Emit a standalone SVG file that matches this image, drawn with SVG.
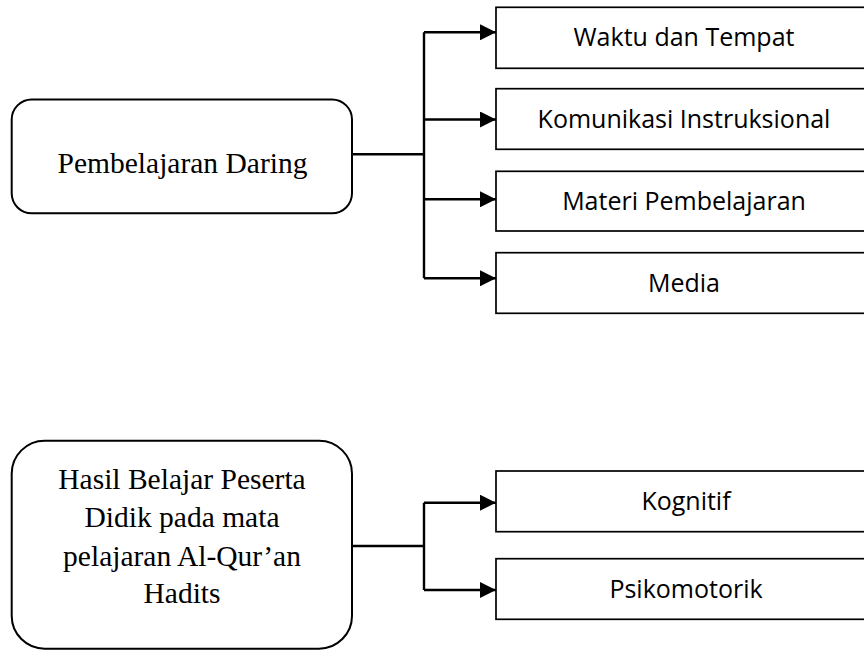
<svg xmlns="http://www.w3.org/2000/svg" width="864" height="650" viewBox="0 0 864 650">
<defs>
<style>
.rbox{fill:#fff;stroke:#000;stroke-width:2}
.box{fill:#fff;stroke:#000;stroke-width:1.7}
.serif{font-family:"Liberation Serif","Times New Roman",serif;font-size:29.5px;fill:#000;text-anchor:middle}
.sans{font-family:"Open Sans","Noto Sans",sans-serif;font-size:25px;fill:#000;text-anchor:middle}
.conn{fill:none;stroke:#000;stroke-width:2.4}
</style>
<marker id="arr" markerUnits="userSpaceOnUse" markerWidth="16" markerHeight="16" refX="16" refY="8" orient="auto">
<path d="M0,0 L16,8 L0,16 z" fill="#000"/>
</marker>
</defs>
<rect width="864" height="650" fill="#fff"/>
<g id="connectors">
<path class="conn" d="M352,154.3 H424 M424,32.3 V278.3"/>
<line class="conn" x1="424" y1="32.3" x2="496" y2="32.3" marker-end="url(#arr)"/>
<line class="conn" x1="424" y1="119.5" x2="496" y2="119.5" marker-end="url(#arr)"/>
<line class="conn" x1="424" y1="199.3" x2="496" y2="199.3" marker-end="url(#arr)"/>
<line class="conn" x1="424" y1="278.3" x2="496" y2="278.3" marker-end="url(#arr)"/>
<path class="conn" d="M352,546 H424 M424,502.7 V590"/>
<line class="conn" x1="424" y1="502.7" x2="496" y2="502.7" marker-end="url(#arr)"/>
<line class="conn" x1="424" y1="590" x2="496" y2="590" marker-end="url(#arr)"/>
</g>
<g id="pembelajaran-daring">
<rect class="rbox" x="11.7" y="99.5" width="340.3" height="113.8" rx="20" ry="20"/>
<text class="serif" x="182.5" y="173">Pembelajaran Daring</text>
</g>
<g id="waktu-tempat">
<rect class="box" x="496" y="7.3" width="376" height="61"/>
<text class="sans" x="684" y="46">Waktu dan Tempat</text>
</g>
<g id="komunikasi">
<rect class="box" x="496" y="88.7" width="376" height="60.6"/>
<text class="sans" x="684" y="128.3">Komunikasi Instruksional</text>
</g>
<g id="materi">
<rect class="box" x="496" y="171.3" width="376" height="59.7"/>
<text class="sans" x="684" y="210">Materi Pembelajaran</text>
</g>
<g id="media">
<rect class="box" x="496" y="252.7" width="376" height="60.6"/>
<text class="sans" x="684" y="291.7">Media</text>
</g>
<g id="hasil-belajar">
<rect class="rbox" x="11.7" y="440.7" width="340.3" height="208" rx="33" ry="33"/>
<text class="serif" x="182" y="489">Hasil Belajar Peserta</text>
<text class="serif" x="182" y="527.3">Didik pada mata</text>
<text class="serif" x="182" y="565.6">pelajaran Al-Qur’an</text>
<text class="serif" x="182" y="603.3">Hadits</text>
</g>
<g id="kognitif">
<rect class="box" x="496" y="471" width="376" height="60.7"/>
<text class="sans" x="686" y="510">Kognitif</text>
</g>
<g id="psikomotorik">
<rect class="box" x="496" y="558.7" width="376" height="60.6"/>
<text class="sans" x="686" y="597.7">Psikomotorik</text>
</g>
</svg>
